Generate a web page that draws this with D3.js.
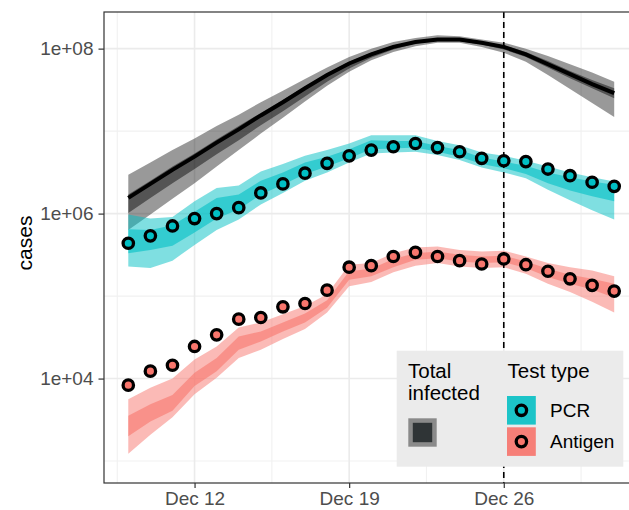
<!DOCTYPE html>
<html>
<head>
<meta charset="utf-8">
<script src="https://cdn.jsdelivr.net/npm/d3@7"></script>
<style>
  body { margin: 0; background: #fff; }
  svg { display: block; font-family: "Liberation Sans", Arial, sans-serif; }
</style>
</head>
<body>
<div class="canvas"></div>
<script>
// Days of December shown on the chart
const days = [9, 10, 11, 12, 13, 14, 15, 16, 17, 18, 19, 20, 21, 22, 23, 24, 25, 26, 27, 28, 29, 30, 31];

// Total infected: median line and 50% / 95% bands
const totalMedian = [1.55e6, 2.29e6, 3.39e6, 4.90e6, 7.24e6, 1.05e7, 1.55e7, 2.24e7, 3.31e7, 4.79e7, 6.61e7, 8.51e7, 1.05e8, 1.20e8, 1.29e8, 1.29e8, 1.18e8, 1.05e8, 8.51e7, 6.46e7, 4.90e7, 3.72e7, 2.88e7];
const totalHi95 = [2.95e6, 4.17e6, 5.89e6, 8.13e6, 1.15e7, 1.58e7, 2.24e7, 3.09e7, 4.27e7, 5.89e7, 7.94e7, 1.00e8, 1.20e8, 1.35e8, 1.45e8, 1.41e8, 1.29e8, 1.18e8, 1.00e8, 8.13e7, 6.46e7, 5.13e7, 3.98e7];
const totalLo95 = [6.31e5, 9.77e5, 1.51e6, 2.34e6, 3.72e6, 5.89e6, 9.33e6, 1.45e7, 2.29e7, 3.55e7, 5.25e7, 7.24e7, 9.12e7, 1.07e8, 1.18e8, 1.18e8, 1.05e8, 8.91e7, 6.92e7, 4.79e7, 3.24e7, 2.19e7, 1.48e7];
const totalHi50 = [1.70e6, 2.51e6, 3.72e6, 5.37e6, 7.94e6, 1.15e7, 1.66e7, 2.40e7, 3.47e7, 5.01e7, 6.92e7, 8.91e7, 1.10e8, 1.23e8, 1.32e8, 1.32e8, 1.20e8, 1.10e8, 9.12e7, 7.08e7, 5.37e7, 4.17e7, 3.31e7];
const totalLo50 = [1.02e6, 1.55e6, 2.34e6, 3.47e6, 5.25e6, 7.76e6, 1.18e7, 1.74e7, 2.63e7, 3.98e7, 5.75e7, 7.76e7, 9.77e7, 1.15e8, 1.23e8, 1.23e8, 1.12e8, 9.77e7, 7.94e7, 5.89e7, 4.37e7, 3.31e7, 2.51e7];

// PCR: observed cases and bands
const pcrCases = [4.37e5, 5.37e5, 7.08e5, 8.71e5, 1.00e6, 1.18e6, 1.78e6, 2.29e6, 3.09e6, 4.07e6, 5.01e6, 5.89e6, 6.46e6, 7.08e6, 6.31e6, 5.62e6, 4.68e6, 4.37e6, 4.27e6, 3.47e6, 2.88e6, 2.40e6, 2.14e6];
const pcrHi95 = [9.77e5, 8.71e5, 9.12e5, 1.41e6, 2.04e6, 2.19e6, 3.24e6, 3.98e6, 5.01e6, 5.89e6, 7.08e6, 8.91e6, 8.91e6, 8.91e6, 7.59e6, 6.76e6, 5.50e6, 5.01e6, 4.37e6, 3.72e6, 3.16e6, 2.75e6, 2.45e6];
const pcrLo95 = [2.29e5, 2.19e5, 2.69e5, 4.17e5, 6.31e5, 8.51e5, 1.29e6, 1.78e6, 2.51e6, 3.16e6, 4.17e6, 5.37e6, 5.50e6, 5.62e6, 5.13e6, 4.47e6, 3.63e6, 3.16e6, 2.69e6, 1.95e6, 1.45e6, 1.10e6, 8.51e5];
const pcrHi50 = [6.46e5, 6.31e5, 7.24e5, 1.05e6, 1.55e6, 1.70e6, 2.51e6, 3.16e6, 4.17e6, 4.90e6, 6.03e6, 7.76e6, 7.59e6, 7.59e6, 6.61e6, 5.89e6, 4.79e6, 4.27e6, 3.80e6, 3.16e6, 2.75e6, 2.45e6, 2.24e6];
const pcrLo50 = [3.31e5, 3.63e5, 4.07e5, 5.89e5, 8.71e5, 1.12e6, 1.70e6, 2.24e6, 3.02e6, 3.72e6, 4.68e6, 6.03e6, 6.17e6, 6.31e6, 5.62e6, 4.90e6, 3.98e6, 3.55e6, 3.02e6, 2.34e6, 1.91e6, 1.62e6, 1.41e6];

// Antigen: observed cases and bands
const antigenCases = [8.32e3, 1.23e4, 1.45e4, 2.45e4, 3.39e4, 5.25e4, 5.50e4, 7.41e4, 8.13e4, 1.18e5, 2.24e5, 2.34e5, 3.02e5, 3.39e5, 3.02e5, 2.69e5, 2.45e5, 2.82e5, 2.40e5, 2.00e5, 1.62e5, 1.35e5, 1.15e5];
const antigenHi95 = [5.62e3, 7.76e3, 1.00e4, 1.70e4, 2.45e4, 4.17e4, 4.79e4, 6.03e4, 7.59e4, 1.05e5, 2.40e5, 2.51e5, 3.31e5, 3.89e5, 3.98e5, 3.63e5, 3.47e5, 3.55e5, 3.02e5, 2.51e5, 2.24e5, 2.04e5, 1.74e5];
const antigenLo95 = [1.23e3, 2.09e3, 3.39e3, 6.46e3, 1.02e4, 1.78e4, 2.24e4, 3.02e4, 3.98e4, 6.31e4, 1.32e5, 1.48e5, 1.95e5, 2.34e5, 2.51e5, 2.29e5, 2.19e5, 2.24e5, 1.86e5, 1.41e5, 1.12e5, 8.51e4, 6.31e4];
const antigenHi50 = [3.55e3, 4.90e3, 6.31e3, 1.18e4, 1.78e4, 3.24e4, 3.72e4, 4.79e4, 6.17e4, 8.91e4, 2.00e5, 2.14e5, 2.82e5, 3.31e5, 3.47e5, 3.16e5, 3.02e5, 3.09e5, 2.63e5, 2.14e5, 1.82e5, 1.62e5, 1.41e5];
const antigenLo50 = [2.00e3, 3.02e3, 4.07e3, 8.13e3, 1.23e4, 2.24e4, 2.82e4, 3.72e4, 4.79e4, 7.24e4, 1.58e5, 1.74e5, 2.24e5, 2.75e5, 2.88e5, 2.63e5, 2.51e5, 2.57e5, 2.19e5, 1.70e5, 1.41e5, 1.20e5, 9.55e4];

// Axes
const yTicks = [1e4, 1e6, 1e8];
const yTickLabels = ['1e+04', '1e+06', '1e+08'];
const yMinor = [1e3, 1e5, 1e7];
const yLimits = [542, 2.78e8];
const xTickDays = [12, 19, 26];
const xTickLabels = ['Dec 12', 'Dec 19', 'Dec 26'];
const xMinorDays = [8.5, 15.5, 22.5, 29.5];
const markerDay = 26;

const svgWidth = 629;
const svgHeight = 510;
const margin = { top: 12, left: 104 };
const graphWidth = 534.5;   // panel runs past the right edge of the image
const graphHeight = 471;

const svg = d3.select('.canvas')
    .append('svg')
    .attr('width', svgWidth)
    .attr('height', svgHeight);

const graph = svg.append('g')
    .attr('transform', `translate(${margin.left}, ${margin.top})`);

// ggplot-like 5% expansion of the date range
const span = days[days.length - 1] - days[0];
const x = d3.scaleLinear()
    .domain([days[0] - span * 0.05, days[days.length - 1] + span * 0.05])
    .range([0, graphWidth]);

const y = d3.scaleLog()
    .domain(yLimits)
    .range([graphHeight, 0]);

// Grid
graph.append('g').selectAll('line')
    .data(yMinor)
    .enter().append('line')
    .attr('x1', 0).attr('x2', graphWidth)
    .attr('y1', d => y(d)).attr('y2', d => y(d))
    .attr('stroke', '#f1f1f1').attr('stroke-width', 1.1);

graph.append('g').selectAll('line')
    .data(xMinorDays)
    .enter().append('line')
    .attr('x1', d => x(d)).attr('x2', d => x(d))
    .attr('y1', 0).attr('y2', graphHeight)
    .attr('stroke', '#f1f1f1').attr('stroke-width', 1.1);

graph.append('g').selectAll('line')
    .data(yTicks)
    .enter().append('line')
    .attr('x1', 0).attr('x2', graphWidth)
    .attr('y1', d => y(d)).attr('y2', d => y(d))
    .attr('stroke', '#ebebeb').attr('stroke-width', 1.6);

graph.append('g').selectAll('line')
    .data(xTickDays)
    .enter().append('line')
    .attr('x1', d => x(d)).attr('x2', d => x(d))
    .attr('y1', 0).attr('y2', graphHeight)
    .attr('stroke', '#ebebeb').attr('stroke-width', 1.6);

// Build row objects for the area generators
const rows = (lo, hi) => days.map((d, i) => ({ day: d, lo: lo[i], hi: hi[i] }));

const area = d3.area()
    .x(d => x(d.day))
    .y0(d => y(d.lo))
    .y1(d => y(d.hi));

function band(lo, hi, color, opacity) {
    graph.append('path')
        .datum(rows(lo, hi))
        .attr('d', area)
        .attr('fill', color)
        .attr('fill-opacity', opacity);
}

// Total infected
band(totalLo95, totalHi95, '#000000', 0.4);
band(totalLo50, totalHi50, '#000000', 0.45);

const line = d3.line()
    .x((d, i) => x(days[i]))
    .y(d => y(d));

graph.append('path')
    .datum(totalMedian)
    .attr('d', line)
    .attr('fill', 'none')
    .attr('stroke', '#000')
    .attr('stroke-width', 4);

// Test types
band(pcrLo95, pcrHi95, '#00BFC4', 0.5);
band(pcrLo50, pcrHi50, '#00BFC4', 0.6);
band(antigenLo95, antigenHi95, '#F8766D', 0.5);
band(antigenLo50, antigenHi50, '#F8766D', 0.6);

// dashed marker
graph.append('line')
    .attr('x1', x(markerDay)).attr('x2', x(markerDay))
    .attr('y1', 0).attr('y2', graphHeight)
    .attr('stroke', '#000')
    .attr('stroke-width', 1.6)
    .attr('stroke-dasharray', '6,4');

function points(values, color) {
    graph.append('g').selectAll('circle')
        .data(values)
        .enter().append('circle')
        .attr('cx', (d, i) => x(days[i]))
        .attr('cy', d => y(d))
        .attr('r', 5.2)
        .attr('fill', color)
        .attr('stroke', '#000')
        .attr('stroke-width', 3.3);
}

points(pcrCases, '#00BFC4');
points(antigenCases, '#F8766D');

// Panel border
graph.append('rect')
    .attr('width', graphWidth)
    .attr('height', graphHeight)
    .attr('fill', 'none')
    .attr('stroke', '#333333')
    .attr('stroke-width', 1.2);

// Axes
const yAxis = d3.axisLeft(y)
    .tickValues(yTicks)
    .tickFormat((d, i) => yTickLabels[i])
    .tickSizeInner(5.5)
    .tickSizeOuter(0)
    .tickPadding(5);

const xAxis = d3.axisBottom(x)
    .tickValues(xTickDays)
    .tickFormat((d, i) => xTickLabels[i])
    .tickSizeInner(5)
    .tickSizeOuter(0)
    .tickPadding(3.5);

const yAxisGroup = graph.append('g').call(yAxis);
const xAxisGroup = graph.append('g')
    .attr('transform', `translate(0, ${graphHeight})`)
    .call(xAxis);

[yAxisGroup, xAxisGroup].forEach(g => {
    g.select('.domain').remove();
    g.selectAll('.tick line').attr('stroke', '#333333').attr('stroke-width', 1.2);
    g.selectAll('.tick text')
        .attr('fill', '#4d4d4d')
        .attr('font-size', 19)
        .attr('font-family', '"Liberation Sans", Arial, sans-serif');
});

svg.append('text')
    .attr('transform', 'translate(24.5, 243) rotate(-90)')
    .attr('text-anchor', 'middle')
    .attr('dominant-baseline', 'central')
    .attr('font-size', 21)
    .attr('fill', '#000')
    .text('cases');

// Legend
const legend = svg.append('g');

legend.append('rect')
    .attr('x', 396.7).attr('y', 350.7)
    .attr('width', 226.6).attr('height', 116)
    .attr('fill', '#ebebeb');

legend.append('text')
    .attr('x', 408).attr('y', 378.3)
    .attr('font-size', 20.5)
    .text('Total');
legend.append('text')
    .attr('x', 408).attr('y', 400)
    .attr('font-size', 20.5)
    .text('infected');

legend.append('rect')
    .attr('x', 408.3).attr('y', 418.3)
    .attr('width', 28.4).attr('height', 28.4)
    .attr('fill', '#8a8a8a');
legend.append('rect')
    .attr('x', 412.8).attr('y', 422.8)
    .attr('width', 19.4).attr('height', 19.4)
    .attr('fill', '#2f3436');

legend.append('text')
    .attr('x', 507.5).attr('y', 378.3)
    .attr('font-size', 20.5)
    .text('Test type');

const testKeys = [
    { label: 'PCR', fill: '#1cc4c8', point: '#00BFC4', y: 396 },
    { label: 'Antigen', fill: '#f67f78', point: '#F8766D', y: 427.3 }
];

testKeys.forEach(k => {
    legend.append('rect')
        .attr('x', 507).attr('y', k.y)
        .attr('width', 28.8).attr('height', 28.6)
        .attr('fill', k.fill);
    legend.append('circle')
        .attr('cx', 521.4).attr('cy', k.y + 14.3)
        .attr('r', 5.2)
        .attr('fill', k.point)
        .attr('stroke', '#000')
        .attr('stroke-width', 3.3);
    legend.append('text')
        .attr('x', 550).attr('y', k.y + 20.7)
        .attr('font-size', 19)
        .text(k.label);
});
</script>
</body>
</html>
